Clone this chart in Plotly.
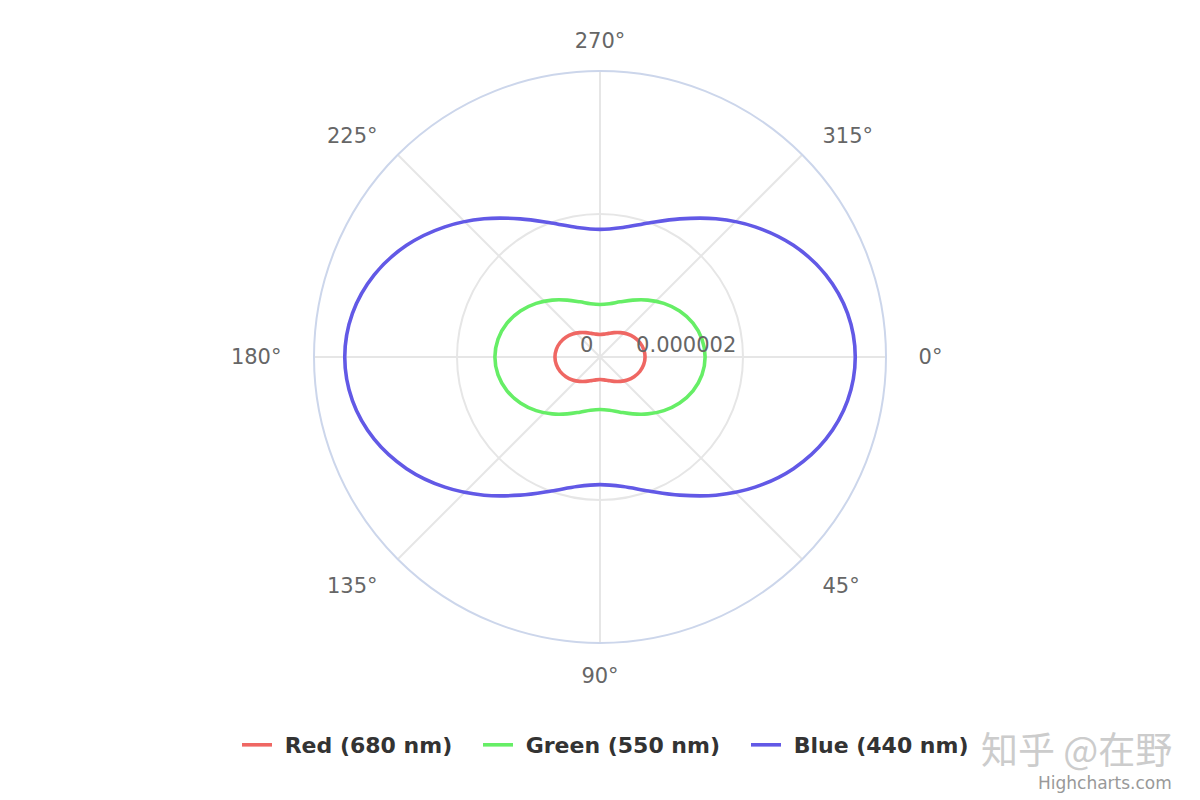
import plotly.graph_objects as go

# Angles (degrees), 0° at right, clockwise
theta = [0, 10, 20, 30, 40, 50, 60, 70, 80, 90, 100, 110, 120, 130, 140, 150, 160, 170,
         180, 190, 200, 210, 220, 230, 240, 250, 260, 270, 280, 290, 300, 310, 320, 330, 340, 350, 360]

red_680 = [0.630e-6, 0.620e-6, 0.593e-6, 0.551e-6, 0.500e-6, 0.445e-6, 0.394e-6, 0.352e-6, 0.325e-6, 0.315e-6,
           0.325e-6, 0.352e-6, 0.394e-6, 0.445e-6, 0.500e-6, 0.551e-6, 0.593e-6, 0.620e-6,
           0.630e-6, 0.620e-6, 0.593e-6, 0.551e-6, 0.500e-6, 0.445e-6, 0.394e-6, 0.352e-6, 0.325e-6, 0.315e-6,
           0.325e-6, 0.352e-6, 0.394e-6, 0.445e-6, 0.500e-6, 0.551e-6, 0.593e-6, 0.620e-6, 0.630e-6]

green_550 = [1.470e-6, 1.448e-6, 1.384e-6, 1.286e-6, 1.166e-6, 1.039e-6, 0.919e-6, 0.821e-6, 0.757e-6, 0.735e-6,
             0.757e-6, 0.821e-6, 0.919e-6, 1.039e-6, 1.166e-6, 1.286e-6, 1.384e-6, 1.448e-6,
             1.470e-6, 1.448e-6, 1.384e-6, 1.286e-6, 1.166e-6, 1.039e-6, 0.919e-6, 0.821e-6, 0.757e-6, 0.735e-6,
             0.757e-6, 0.821e-6, 0.919e-6, 1.039e-6, 1.166e-6, 1.286e-6, 1.384e-6, 1.448e-6, 1.470e-6]

blue_440 = [3.570e-6, 3.516e-6, 3.361e-6, 3.124e-6, 2.832e-6, 2.523e-6, 2.231e-6, 1.994e-6, 1.839e-6, 1.785e-6,
            1.839e-6, 1.994e-6, 2.231e-6, 2.523e-6, 2.832e-6, 3.124e-6, 3.361e-6, 3.516e-6,
            3.570e-6, 3.516e-6, 3.361e-6, 3.124e-6, 2.832e-6, 2.523e-6, 2.231e-6, 1.994e-6, 1.839e-6, 1.785e-6,
            1.839e-6, 1.994e-6, 2.231e-6, 2.523e-6, 2.832e-6, 3.124e-6, 3.361e-6, 3.516e-6, 3.570e-6]

series_names = ["Red (680 nm)", "Green (550 nm)", "Blue (440 nm)"]
series_colors = ["#ef6763", "#66ee66", "#6259e6"]
legend_ids = ["legend", "legend2", "legend3"]

NB = "\u00a0"
angle_ticks = [0, 45, 90, 135, 180, 225, 270, 315]
angle_labels = [NB + NB + "0°", NB + "45°", "90°", "135°" + NB, "180°" + NB + NB, "225°" + NB, "270°", NB + "315°"]
radial_ticks = [0, 0.000002]
radial_labels = ["0" + NB, "0.000002" + NB]

fig = go.Figure()
for name, vals, col, lg in zip(series_names, [red_680, green_550, blue_440], series_colors, legend_ids):
    fig.add_trace(go.Scatterpolar(
        r=vals, theta=theta, mode="lines", name=NB + name, legend=lg,
        line=dict(color=col, width=3.6, shape="spline", smoothing=1.0),
    ))

# radial tick labels drawn as text through the polar scale
fig.add_trace(go.Scatterpolar(
    r=radial_ticks, theta=[0, 0], mode="text", text=radial_labels,
    textposition="top left", showlegend=False, hoverinfo="skip",
    textfont=dict(family="DejaVu Sans", size=21, color="#666666"),
))

# page body has an 8px margin: positions below compensate for it
legend_font = dict(family="DejaVu Sans", size=22, color="#333333", weight="bold")
legend_y = (808 - 745) / 800
legend_common = dict(orientation="h", xanchor="left", y=legend_y, yanchor="middle",
                     font=legend_font, itemwidth=30, bgcolor="rgba(0,0,0,0)")

fig.update_layout(
    width=1200, height=800,
    paper_bgcolor="white", plot_bgcolor="white",
    margin=dict(l=0, r=0, t=0, b=0),
    font=dict(family="DejaVu Sans", color="#666666"),
    polar=dict(
        domain=dict(x=[306 / 1200, 878 / 1200], y=[165 / 800, 737 / 800]),
        bgcolor="white",
        angularaxis=dict(
            direction="clockwise", rotation=0,
            tickmode="array", tickvals=angle_ticks, ticktext=angle_labels,
            showline=True, linecolor="#ccd6eb", linewidth=2,
            gridcolor="#e6e6e6", gridwidth=1.8,
            ticks="outside", ticklen=14, tickcolor="rgba(0,0,0,0)",
            tickfont=dict(family="DejaVu Sans", size=21, color="#666666"),
        ),
        radialaxis=dict(
            range=[0, 0.000004], tickmode="array", tickvals=[0.000002, 0.000004],
            showticklabels=False, showline=False, ticks="",
            gridcolor="#e6e6e6", gridwidth=1.8,
        ),
    ),
    legend=dict(x=(243 - 8 - 6) / 1200, **legend_common),
    legend2=dict(x=(484 - 8 - 6) / 1200, **legend_common),
    legend3=dict(x=(752 - 8 - 6) / 1200, **legend_common),
    annotations=[
        dict(text="知乎 @在野", xref="paper", yref="paper", x=(1174 - 8) / 1200, y=(808 - 748) / 800,
             xanchor="right", yanchor="middle", showarrow=False,
             font=dict(family="Noto Sans CJK SC", size=37, color="#cccccc")),
        dict(text="Highcharts.com", xref="paper", yref="paper", x=(1174 - 8) / 1200, y=(808 - 783) / 800,
             xanchor="right", yanchor="middle", showarrow=False,
             font=dict(family="DejaVu Sans", size=17, color="#999999")),
    ],
)

fig.write_html("out.html")
